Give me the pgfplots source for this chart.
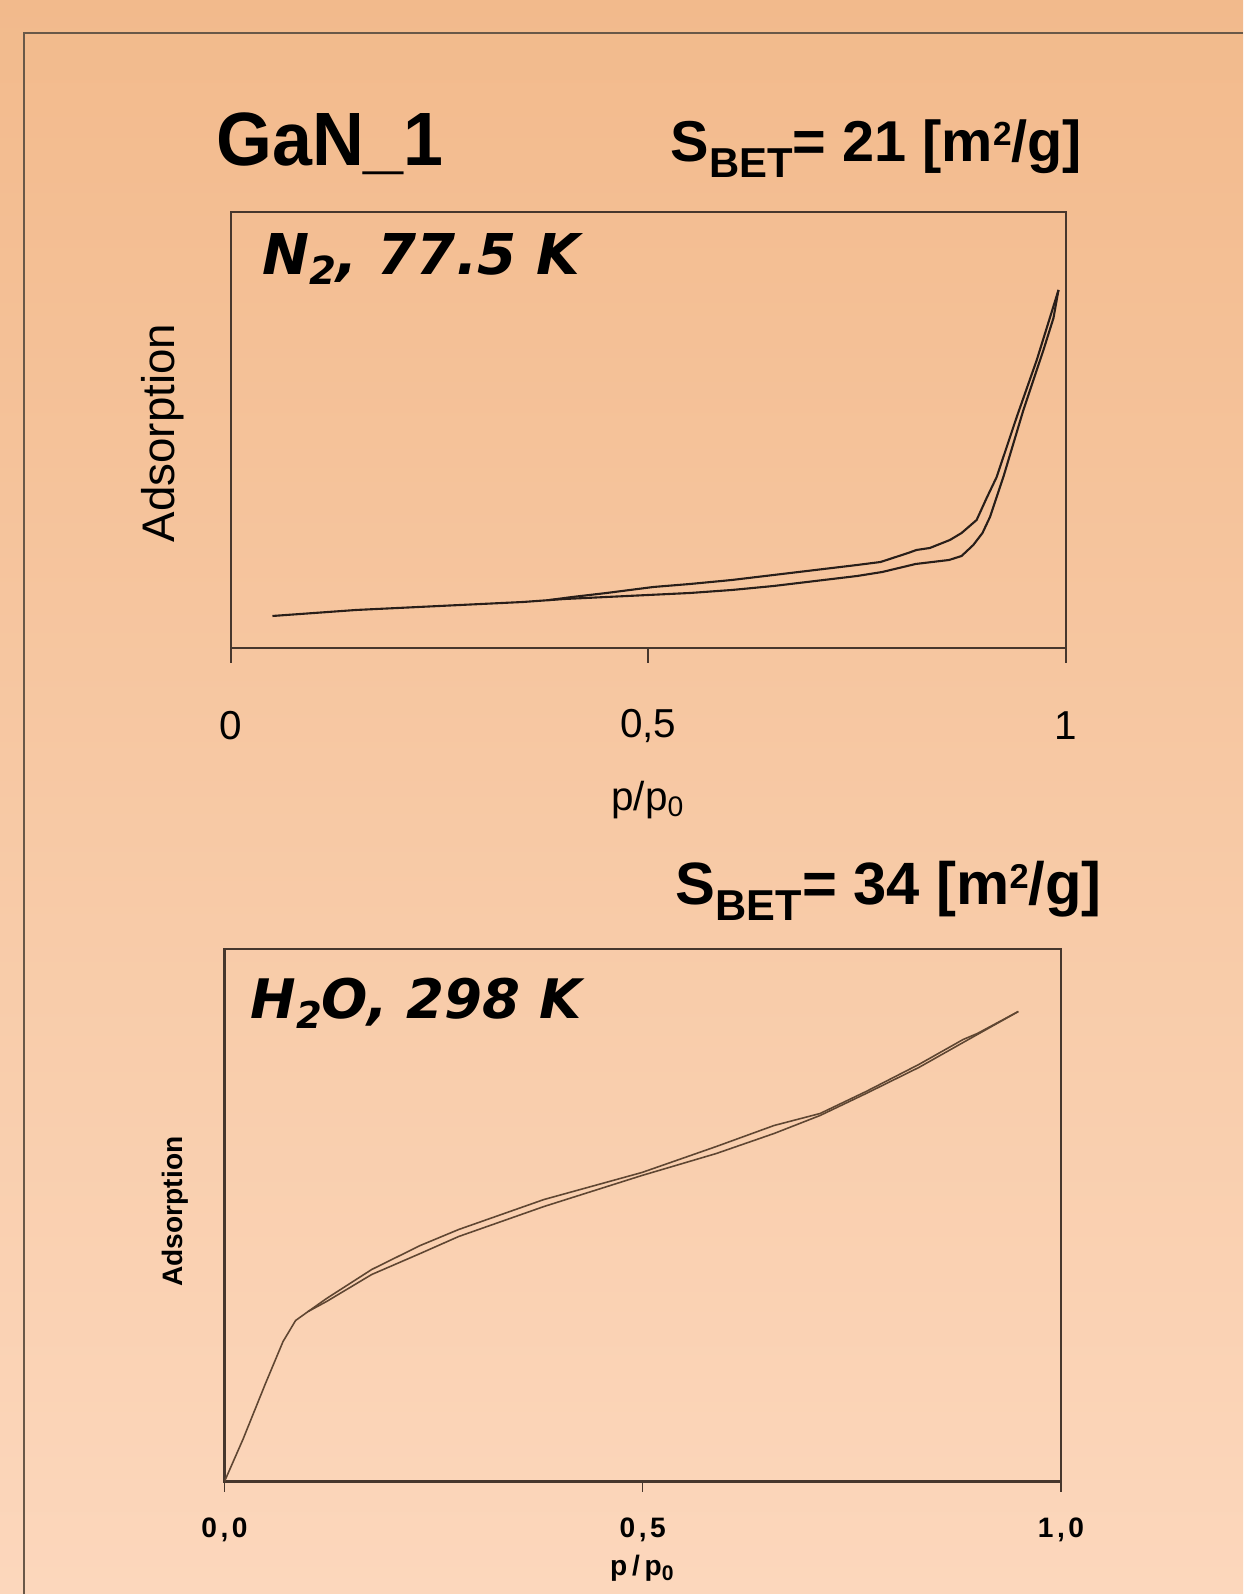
\documentclass[border=0pt]{standalone}
\usepackage{pgfplots}
\pgfplotsset{compat=1.18}
\usepackage{fontspec}
\setmainfont{Liberation Sans}
\newfontfamily\dejavu{DejaVu Sans}
\definecolor{bgtop}{RGB}{242,186,140}
\definecolor{bgbot}{RGB}{252,215,188}
\definecolor{framec}{RGB}{105,88,72}
\definecolor{axc}{RGB}{70,55,45}
\definecolor{curvec}{RGB}{40,30,25}
\definecolor{curveh}{RGB}{95,70,50}

\pgfplotstableread{
x y
0.050 32
0.100 35
0.150 38
0.200 40
0.250 42
0.300 44
0.350 46
0.400 49
0.450 51
0.500 53
0.550 55
0.600 58
0.650 62
0.700 67
0.750 72
0.780 76
0.800 80
0.820 84
0.840 86
0.860 88
0.875 92
0.889 103
0.900 115
0.909 131
0.925 171
0.949 238
0.973 298
0.985 330
0.991 358
}\nadsA

\pgfplotstableread{
x y
0.991 358
0.981 331
0.965 288
0.941 231
0.917 171
0.905 150
0.893 128
0.875 115
0.861 108
0.837 100
0.821 98
0.811 95
0.778 86
0.750 83
0.700 78
0.650 73
0.600 68
0.550 64
0.506 61
0.450 55
0.409 51
0.380 47.8
}\ndesA

\pgfplotstableread{
x y
0.000 0
0.022 42
0.049 98
0.070 140
0.085 161
0.100 170
0.122 180
0.176 207
0.234 228
0.280 245
0.382 275
0.499 306
0.588 328
0.657 348
0.712 366
0.767 388
0.830 414
0.883 439
0.949 470
}\hadsA

\pgfplotstableread{
x y
0.949 470
0.900 448
0.883 442
0.830 417
0.767 390
0.712 368
0.657 356
0.588 335
0.499 309
0.382 282
0.280 252
0.234 236
0.176 212
0.122 183
0.100 170
}\hdesA

\begin{document}
\begin{tikzpicture}
\useasboundingbox (0,0) rectangle (12.43,15.94);
\shade[top color=bgtop, bottom color=bgbot] (0,0) rectangle (12.43,15.94);
\draw[framec, line width=0.6pt] (0.243,0) -- (0.243,15.61) -- (12.43,15.61);

\node[anchor=base west, inner sep=0] at (2.156,14.283) {\scalebox{0.95}[1]{\fontsize{21.5}{21.5}\selectfont\bfseries GaN\_1}};
\node[anchor=base west, inner sep=0] at (6.70,14.32) {\fontsize{16.4}{16.4}\selectfont\bfseries S\raisebox{-4.3pt}{\fontsize{11.9}{11.9}\selectfont BET}= 21 [m\raisebox{4.6pt}{\fontsize{9.5}{9.5}\selectfont 2}/g]};
\node[anchor=base west, inner sep=0] at (6.75,6.89) {\fontsize{17}{17}\selectfont\bfseries S\raisebox{-4.5pt}{\fontsize{12.3}{12.3}\selectfont BET}= 34 [m\raisebox{4.8pt}{\fontsize{9.8}{9.8}\selectfont 2}/g]};

\begin{axis}[
  at={(2.307cm,9.46cm)}, anchor=south west, scale only axis,
  width=8.353cm, height=4.356cm,
  xmin=0, xmax=1, ymin=0, ymax=435.6,
  axis line style={axc, line width=0.6pt},
  xtick={0,0.5,1}, xticklabels={0,{0,5},1}, ytick=\empty,
  xtick pos=left, tick align=outside, major tick length=0.15cm,
  tick style={axc, line width=0.5pt},
  xticklabel style={anchor=center, yshift=-0.627cm, font=\fontsize{11.5}{11.5}\selectfont},
  xlabel={p/p\textsubscript{0}},
  xlabel style={at={(axis description cs:0.5,-0.349)}, anchor=center, font=\fontsize{11.5}{11.5}\selectfont},
  ylabel={Adsorption},
  ylabel style={at={(axis description cs:-0.0815,0.4936)}, anchor=center, font=\fontsize{13}{13}\selectfont},
]
\addplot[curvec, line width=0.6pt] table {\nadsA};
\addplot[curvec, line width=0.6pt] table {\ndesA};
\node[anchor=base west, inner sep=0] at (axis description cs:0.0377,0.8576) {\dejavu\fontsize{16}{16}\selectfont\bfseries\itshape N\raisebox{-3pt}{\fontsize{11}{11}\selectfont 2}, 77.5 K};
\end{axis}

\begin{axis}[
  at={(2.245cm,1.125cm)}, anchor=south west, scale only axis,
  width=8.365cm, height=5.325cm,
  xmin=0, xmax=1, ymin=0, ymax=532.5,
  axis line style={axc, line width=0.6pt},
  xtick={0,0.5,1}, xticklabels={{0\hspace{1pt},\hspace{1pt}0},{0\hspace{1pt},\hspace{1pt}5},{1\hspace{1pt},\hspace{1pt}0}}, ytick=\empty,
  xtick pos=left, tick align=outside, major tick length=0.1cm,
  tick style={axc, line width=0.4pt},
  xticklabel style={anchor=center, yshift=-0.382cm, font=\fontsize{8}{8}\selectfont\bfseries},
  xlabel={p\,/\,p\textsubscript{0}},
  xlabel style={at={(axis description cs:0.5,-0.1625)}, anchor=center, font=\fontsize{8}{8}\selectfont\bfseries},
  ylabel={Adsorption},
  ylabel style={at={(axis description cs:-0.0594,0.507)}, anchor=center, font=\fontsize{8}{8}\selectfont\bfseries},
]
\addplot[curveh, line width=0.45pt] table {\hadsA};
\addplot[curveh, line width=0.45pt] table {\hdesA};
\node[anchor=base west, inner sep=0] at (axis description cs:0.0305,0.8697) {\dejavu\fontsize{15.5}{15.5}\selectfont\bfseries\itshape H\raisebox{-3pt}{\fontsize{10.5}{10.5}\selectfont 2}O, 298 K};
\end{axis}
\end{tikzpicture}
\end{document}
